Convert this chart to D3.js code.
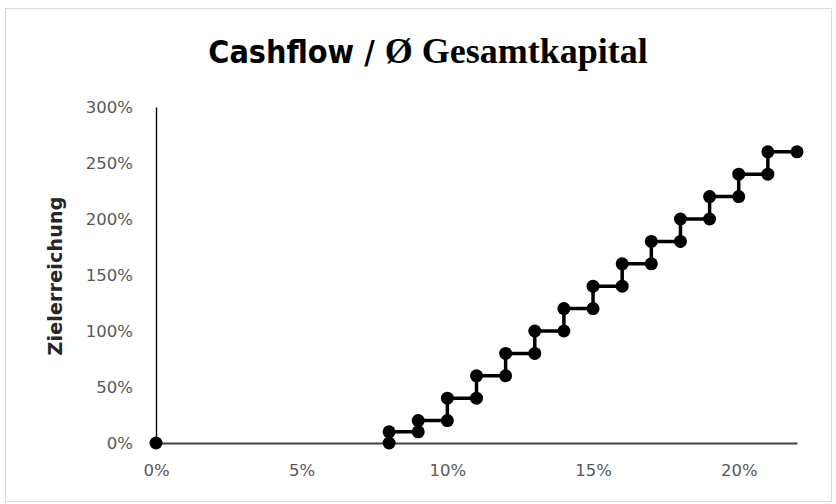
<!DOCTYPE html>
<html><head><meta charset="utf-8">
<script src="https://cdn.jsdelivr.net/npm/d3@7"></script>
<style>body{margin:0;background:#fff}</style>
</head><body><svg id="c" width="836" height="504"></svg>
<script>
const xValues = [0.08,0.08,0.09,0.09,0.10,0.10,0.11,0.11,0.12,0.12,0.13,0.13,0.14,0.14,0.15,0.15,0.16,0.16,0.17,0.17,0.18,0.18,0.19,0.19,0.20,0.20,0.21,0.21,0.22];
const yValues = [0,0.1,0.1,0.2,0.2,0.4,0.4,0.6,0.6,0.8,0.8,1.0,1.0,1.2,1.2,1.4,1.4,1.6,1.6,1.8,1.8,2.0,2.0,2.2,2.2,2.4,2.4,2.6,2.6];
const isolatedX = [0];
const isolatedY = [0];
const xTicks = [0,0.05,0.10,0.15,0.20];
const yTicks = [0,0.5,1,1.5,2,2.5,3];
const titleParts = ["Cashflow / ","Ø Gesamtkapital"];
const yTitle = "Zielerreichung";

const svg = d3.select("#c");
svg.append("rect").attr("x",5.5).attr("y",8.5).attr("width",826).attr("height",493)
  .attr("fill","#fff").attr("stroke","#d9d9d9");

const x = d3.scaleLinear().domain([0,0.22]).range([156,797]);
const y = d3.scaleLinear().domain([0,3]).range([443,107]);
const tickFont = "'DejaVu Sans',sans-serif";

// y axis
const ya = svg.append("g").attr("transform","translate(156,0)")
  .call(d3.axisLeft(y).tickValues(yTicks).tickSize(0).tickPadding(23).tickFormat(d3.format(".0%")));
ya.select(".domain").attr("stroke","#000").attr("stroke-width",1.4);
ya.selectAll("text").attr("font-family",tickFont).attr("font-size",16.5).attr("fill","#595959");

// x axis
const xa = svg.append("g").attr("transform","translate(0,443)")
  .call(d3.axisBottom(x).tickValues(xTicks).tickSize(0).tickPadding(21).tickFormat(d3.format(".0%")));
xa.select(".domain").attr("stroke","#404040").attr("stroke-width",2);
xa.selectAll("text").attr("font-family",tickFont).attr("font-size",16.5).attr("fill","#595959");

// line
const pts = xValues.map((v,i)=>[v,yValues[i]]);
svg.append("path").datum(pts)
  .attr("d",d3.line().x(d=>x(d[0])).y(d=>y(d[1])))
  .attr("fill","none").attr("stroke","#000").attr("stroke-width",3.5);
svg.selectAll("circle.p").data(pts).enter().append("circle")
  .attr("cx",d=>x(d[0])).attr("cy",d=>y(d[1])).attr("r",6.5).attr("fill","#000");
svg.selectAll("circle.i").data(isolatedX.map((v,i)=>[v,isolatedY[i]])).enter().append("circle")
  .attr("cx",d=>x(d[0])).attr("cy",d=>y(d[1])).attr("r",6.5).attr("fill","#000");

// title
const t = svg.append("text").attr("x",428).attr("y",63).attr("text-anchor","middle").attr("font-weight","bold").attr("font-size",32).attr("fill","#000");
t.append("tspan").attr("font-family","'DejaVu Sans Condensed',sans-serif").attr("font-stretch","condensed").text(titleParts[0]);
t.append("tspan").attr("font-family","'Liberation Serif',serif").attr("font-size",36).text(titleParts[1]);

// y title
svg.append("text").attr("transform","translate(62,276) rotate(-90)").attr("text-anchor","middle")
  .attr("font-family","'DejaVu Sans',sans-serif").attr("font-weight","bold").attr("font-size",19).attr("letter-spacing",0.2)
  .attr("fill","#262626").text(yTitle);
</script></body></html>
